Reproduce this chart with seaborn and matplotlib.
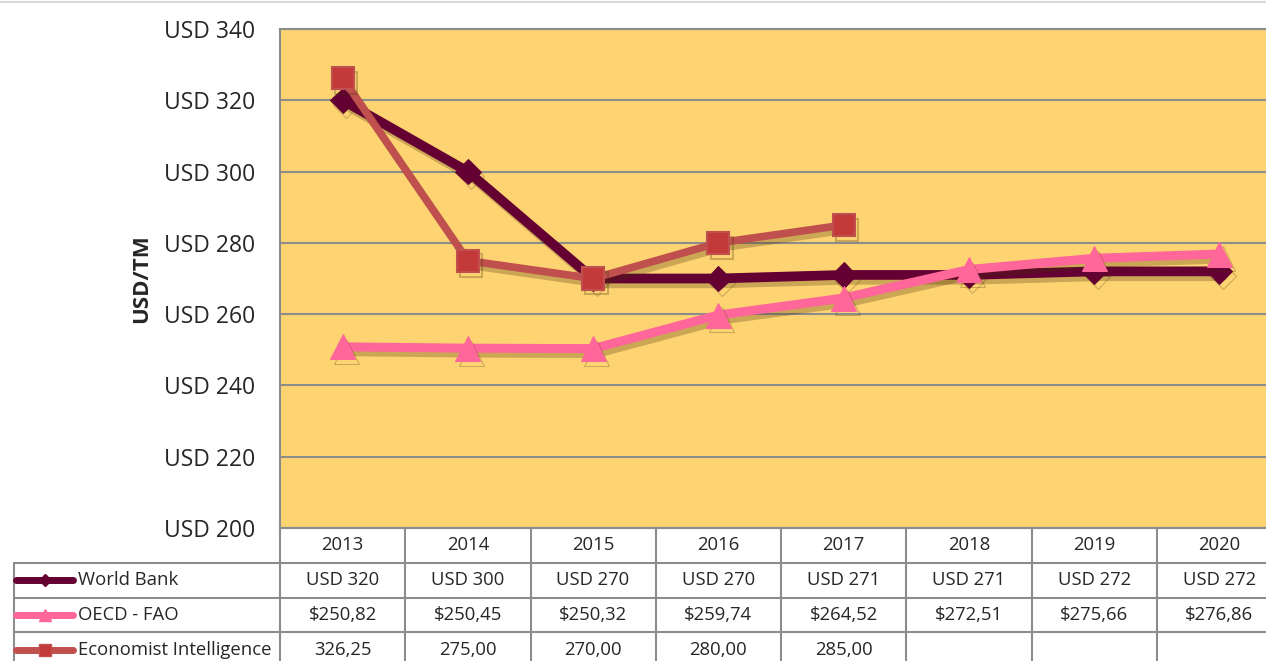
import numpy as np
import pandas as pd
import matplotlib.pyplot as plt
import matplotlib.patheffects as pe
import seaborn as sns

sns.set_style("white")
plt.rcParams['font.family'] = ['Open Sans', 'DejaVu Sans']

# data
years = ['2013', '2014', '2015', '2016', '2017', '2018', '2019', '2020']
world_bank = [320, 300, 270, 270, 271, 271, 272, 272]
oecd_fao = [250.82, 250.45, 250.32, 259.74, 264.52, 272.51, 275.66, 276.86]
economist = [326.25, 275.00, 270.00, 280.00, 285.00]
series_names = ['World Bank', 'OECD - FAO', 'Economist Intelligence']
yticks = [200, 220, 240, 260, 280, 300, 320, 340]

# styles
bg = '#FED473'
grid = '#8C8C8C'
c_wb = '#640032'
c_oecd = '#FF6699'
c_ei = '#C0504D'
c_ei_face = '#C43A3A'

W, H = 1266, 661
fig = plt.figure(figsize=(W / 100, H / 100), dpi=100)

# main plot area
ax = fig.add_axes([280 / W, (H - 528) / H, 1002 / W, 499 / H])
ax.set_facecolor(bg)

shadow = [pe.SimpleLineShadow(offset=(2.5, -3.5), shadow_color='#4a3008', alpha=0.28), pe.Normal()]

x_wb = np.arange(len(world_bank))
x_oecd = np.arange(len(oecd_fao))
x_ei = np.arange(len(economist))

sns.lineplot(x=x_wb, y=world_bank, ax=ax, color=c_wb, linewidth=7, marker='D',
             markersize=13, markeredgecolor=c_wb, path_effects=shadow, zorder=3)
sns.lineplot(x=x_oecd, y=oecd_fao, ax=ax, color=c_oecd, linewidth=6.5, marker='^',
             markersize=18, markeredgecolor=c_oecd, path_effects=shadow, zorder=4)
sns.lineplot(x=x_ei, y=economist, ax=ax, color=c_ei, linewidth=5.5, marker='s',
             markersize=16, markerfacecolor=c_ei_face, markeredgecolor=c_ei,
             markeredgewidth=1.5, path_effects=shadow, zorder=5)

ax.set_xlim(-0.5, len(years) - 0.5)
ax.set_ylim(200, 340)
ax.set_yticks(yticks)
ax.set_yticklabels([f'USD {v}' for v in yticks], fontsize=16.5)
ax.tick_params(axis='y', length=0, pad=18)
ax.set_xticks([])
ax.yaxis.grid(True, color=grid, linewidth=1.5)
ax.set_axisbelow(True)
for s in ax.spines.values():
    s.set_color(grid)
    s.set_linewidth(1.5)
ax.set_ylabel('USD/TM', fontsize=16, fontweight='bold')
ax.yaxis.set_label_coords(-0.128, 0.5)

# data table under the plot
row_h = 34.75
lab_w = 266 / 125.25
tab = fig.add_axes([14 / W, (H - 528 - 4 * row_h) / H, 1268 / W, 4 * row_h / H])
tab.set_xlim(-0.5 - lab_w, len(years) - 0.5)
tab.set_ylim(4, 0)
tab.axis('off')

lc = dict(color=grid, linewidth=1.5, clip_on=False)
n = len(years)
tab.plot([-0.5, n - 0.5], [0, 0], **lc)
for r in range(1, 5):
    tab.plot([-0.5 - lab_w, n - 0.5], [r, r], **lc)
for c in range(n + 1):
    tab.plot([c - 0.5, c - 0.5], [0, 4], **lc)
tab.plot([-0.5 - lab_w, -0.5 - lab_w], [1, 4], **lc)

fs = 13.3
for i, y in enumerate(years):
    tab.text(i, 0.5, y, ha='center', va='center', fontsize=fs)

rows = [
    [f'USD {v}' for v in world_bank],
    [('$%.2f' % v).replace('.', ',') for v in oecd_fao],
    [('%.2f' % v).replace('.', ',') for v in economist],
]
for r, vals in enumerate(rows, start=1):
    for i, t in enumerate(vals):
        tab.text(i, r + 0.5, t, ha='center', va='center', fontsize=fs)

keys = [
    dict(color=c_wb, marker='D', markersize=6, markeredgecolor=c_wb),
    dict(color=c_oecd, marker='^', markersize=8, markeredgecolor=c_oecd),
    dict(color=c_ei, marker='s', markersize=9, markerfacecolor=c_ei_face, markeredgecolor=c_ei),
]
x0 = -0.5 - lab_w + 2 / 125.25
x1 = -0.5 - lab_w + 59 / 125.25
for r, (name, k) in enumerate(zip(series_names, keys), start=1):
    tab.plot([x0, x1], [r + 0.5, r + 0.5], color=k['color'], linewidth=5,
             solid_capstyle='round', clip_on=False)
    tab.plot([(x0 + x1) / 2], [r + 0.5], linestyle='none', clip_on=False, **k)
    tab.text(x1 + 5 / 125.25, r + 0.5, name, ha='left', va='center', fontsize=fs)

# thin chart border at the top
fig.add_artist(plt.Line2D([0, 1], [1 - 1.5 / H, 1 - 1.5 / H], color='#D9D9D9', linewidth=1.5))

fig.savefig('out.png', dpi=100, facecolor='white')
